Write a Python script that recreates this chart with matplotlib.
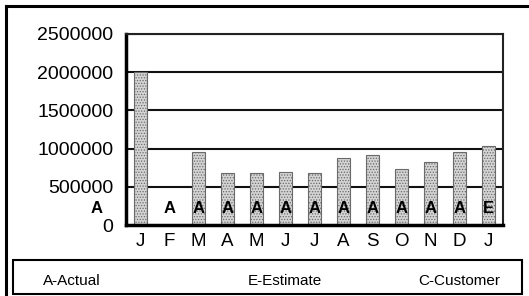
import matplotlib
matplotlib.use("Agg")
import matplotlib.pyplot as plt
from matplotlib.patches import Rectangle
from matplotlib.lines import Line2D

months = ["J", "F", "M", "A", "M", "J", "J", "A", "S", "O", "N", "D", "J"]
values = [2000000, 0, 955000, 676000, 676000, 690000, 676000, 875000, 915000, 729000, 822000, 955000, 1038000]
flags = ["A", "A", "A", "A", "A", "A", "A", "A", "A", "A", "A", "A", "E"]
yticks = [0, 500000, 1000000, 1500000, 2000000, 2500000]
legend_items = ["A-Actual", "E-Estimate", "C-Customer"]

plt.rcParams['font.family'] = ['Liberation Sans', 'DejaVu Sans']
plt.rcParams['hatch.color'] = '#7a7a7a'
plt.rcParams['hatch.linewidth'] = 0.6

W, H = 529, 296
fig = plt.figure(figsize=(W / 100, H / 100), dpi=100)

# plot area in pixels
L, R, T, B = 126, 503, 34, 225
ax = fig.add_axes([L / W, 1 - B / H, (R - L) / W, (B - T) / H])
x = list(range(len(months)))
ax.bar(x, values, width=0.45, color='#d4d4d4', edgecolor='#6a6a6a', linewidth=0.8,
       hatch='......', zorder=2)
ax.set_xlim(-0.5, len(months) - 0.5)
ax.set_ylim(0, 2500000)
ax.set_yticks(yticks)
ax.set_yticklabels([str(v) for v in yticks], fontsize=14)
ax.set_xticks(x)
ax.set_xticklabels(months, fontsize=13.5)
ax.tick_params(length=0)
ax.tick_params(axis='y', pad=9)
ax.tick_params(axis='x', pad=6)
for v in yticks[1:]:
    ax.axhline(v, color='#111111', lw=1.5, zorder=1)
for s in ['top', 'right']:
    ax.spines[s].set_linewidth(1.5)
    ax.spines[s].set_color('#222222')
for s in ['left', 'bottom']:
    ax.spines[s].set_linewidth(2.5)
    ax.spines[s].set_color('black')

for i, f in enumerate(flags):
    xi = i if i > 0 else -1.5
    ax.text(xi, 220000, f, ha='center', va='center', fontsize=12, fontweight='bold',
            zorder=3, clip_on=False)

# outer border lines
fig.add_artist(Line2D([5.5 / W, 528 / W], [1 - 5.5 / H, 1 - 5.5 / H], color='black', lw=2.2))
fig.add_artist(Line2D([5.5 / W, 5.5 / W], [1 - 5.5 / H, 0], color='black', lw=2.2))

# legend box
fig.add_artist(Rectangle((13 / W, 1 - 294 / H), (522 - 13) / W, (294 - 260) / H,
                         fill=False, edgecolor='black', lw=1.5))
for txt, cx in zip(legend_items, [72, 285, 459]):
    fig.text(cx / W, 1 - 281 / H, txt, ha='center', va='center', fontsize=11)

fig.savefig("out.png", dpi=100)
